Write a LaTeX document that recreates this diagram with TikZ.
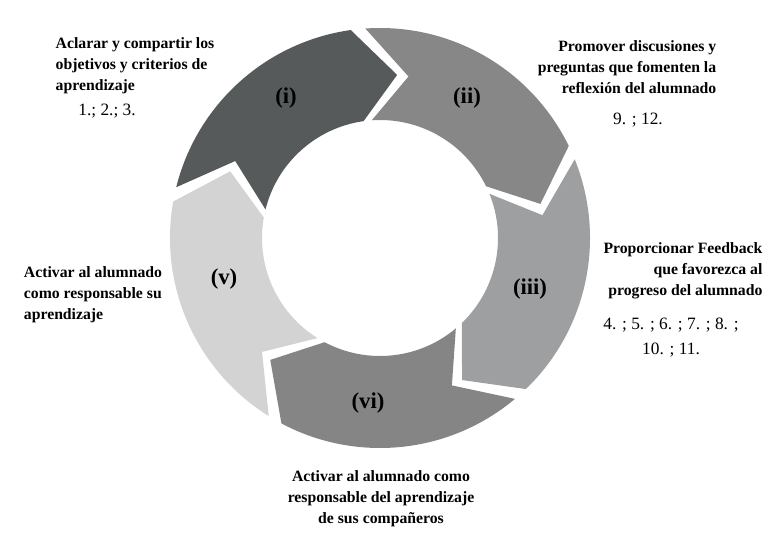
\documentclass[tikz,border=0pt]{standalone}
\usepackage{fontspec}
\setmainfont{Liberation Serif}
\usetikzlibrary{positioning}

\definecolor{segi}{HTML}{575A5B}
\definecolor{segii}{HTML}{878787}
\definecolor{segiii}{HTML}{9D9FA0}
\definecolor{segvi}{HTML}{858585}
\definecolor{segv}{HTML}{D2D3D2}

\begin{document}
\begin{tikzpicture}[x=0.75pt, y=0.75pt,
        txt/.style = {font=\fontsize{11.8}{15.75}\selectfont\bfseries, inner sep=0},
        nums/.style = {font=\fontsize{13}{18.75}\selectfont, inner sep=0},
        tag/.style = {font=\fontsize{17}{20}\selectfont\bfseries, inner sep=0}]
                \useasboundingbox (0,0) rectangle (784,544);
                \coordinate (O) at (380,306);

                % five curved arrows, clockwise
                \foreach \t/\c in {166/segi, 94/segii, 22/segiii, -50/segvi, -122/segv} {
                    \pgfmathsetmacro\h{\t-68}
                    \pgfmathsetmacro\p{\t-82}
                    \pgfmathsetmacro\n{\t-14}
                    \begin{scope}[shift={(O)}]
                        \fill[\c] (\t:210) arc[start angle=\t, end angle=\h, radius=210]
                            -- (\p:164) -- (\h:118) arc[start angle=\h, end angle=\t, radius=118]
                            -- (\n:164) -- cycle;
                    \end{scope}
                }

                \node [tag] (Ti) at (286,446) {(i)};
                \node [tag] (Tii) at (467,446) {(ii)};
                \node [tag] (Tiii) at (530,255) {(iii)};
                \node [tag] (Tvi) at (368,141) {(vi)};
                \node [tag] (Tv) at (224,265) {(v)};

                \node [txt, align=left] (A1) at (135,478) {Aclarar y compartir los\\objetivos y criterios de\\aprendizaje};
                \node [nums] (N1) at (107,433) {1.; 2.; 3.};

                \node [txt, align=right] (A2) at (627,477) {Promover discusiones y\\preguntas que fomenten la\\reflexión del alumnado};
                \node [nums] (N2) at (638,424) {9. ; 12.};

                \node [txt, align=right] (A3) at (683,273) {Proporcionar Feedback\\que favorezca al\\progreso del alumnado};
                \node [nums, align=center] (N3) at (671,206) {4. ; 5. ; 6. ; 7. ; 8. ;\\10. ; 11.};

                \node [txt, align=left] (A5) at (93,249) {Activar al alumnado\\como responsable su\\aprendizaje};

                \node [txt, align=center] (A6) at (381,45) {Activar al alumnado como\\responsable del aprendizaje\\de sus compañeros};
            \end{tikzpicture}
\end{document}
